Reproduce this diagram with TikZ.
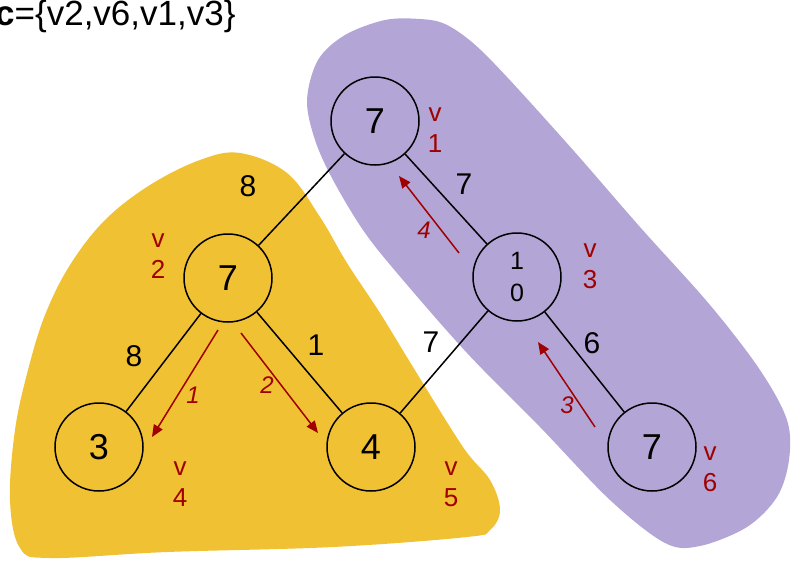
\documentclass[tikz,border=0pt]{standalone}
\usepackage{fontspec}
\setmainfont{Liberation Sans}
\usetikzlibrary{arrows.meta}
\definecolor{gold}{HTML}{F0C132}
\definecolor{lav}{HTML}{B3A6D6}
\definecolor{dred}{HTML}{A00000}
\begin{document}
\begin{tikzpicture}[x=1pt,y=-1pt,
  vert/.style={circle,draw,line width=1.5pt,minimum size=88pt,inner sep=0pt,font=\fontsize{36}{36}\selectfont},
  edge/.style={line width=1.5pt},
  wt/.style={font=\fontsize{30}{30}\selectfont,inner sep=0pt},
  vl/.style={text=dred,font=\fontsize{26}{31}\selectfont,align=center,inner sep=0pt},
  ord/.style={text=dred,font=\fontsize{24}{24}\selectfont\itshape,inner sep=0pt},
  tr/.style={dred,line width=1.5pt,-{Triangle[length=12pt,width=10pt]}}]
\useasboundingbox (0,0) rectangle (792,563);
% blobs
\fill[gold] plot[smooth cycle, tension=0.6] coordinates {(240,153) (287,173) (320,217) (347,263) (380,313) (413,367) (463,447) (490,480) (500,510) (490,530) (467,537) (333,547) (167,552) (50,558) (20,548) (10,500) (15,430) (28,370) (45,315) (70,265) (105,220) (150,185) (200,160)};
\fill[lav] plot[smooth cycle, tension=0.55] coordinates {(307,100) (318,60) (345,35) (385,20) (420,19) (445,24) (473,43) (507,77) (573,150) (640,227) (710,305) (760,370) (787,420) (789,460) (777,497) (747,527) (700,546) (665,543) (610,500) (540,427) (467,353) (397,273) (363,230) (333,180) (315,140)};
% title
\node[anchor=base west,font=\fontsize{35}{35}\selectfont,inner sep=0pt] (title) at (-5,25) {\textbf{c}=\{v2,v6,v1,v3\}};
% vertices
\node[vert] (v1) at (375,121) {7};
\node[vert] (v2) at (228,278) {7};
\node[vert,font=\fontsize{25}{32}\selectfont,align=center] (v3) at (517,277) {1\\0};
\node[vert] (v4) at (99,447) {3};
\node[vert] (v5) at (371,447) {4};
\node[vert] (v6) at (652,447) {7};
% edges
\draw[edge] (v1) -- (v2);
\draw[edge] (v1) -- (v3);
\draw[edge] (v2) -- (v4);
\draw[edge] (v2) -- (v5);
\draw[edge] (v3) -- (v5);
\draw[edge] (v3) -- (v6);
% weights
\node[wt] (w12) at (248,186) {8};
\node[wt] (w13) at (464,184) {7};
\node[wt] (w24) at (134,356) {8};
\node[wt] (w25) at (316,345) {1};
\node[wt] (w35) at (431,342) {7};
\node[wt] (w36) at (592,343) {6};
% vertex names
\node[vl] (n1) at (435,130) {v\\1};
\node[vl] (n2) at (158,256) {v\\2};
\node[vl] (n3) at (590,266) {v\\3};
\node[vl] (n4) at (180,484) {v\\4};
\node[vl] (n5) at (451,484) {v\\5};
\node[vl] (n6) at (710,469) {v\\6};
% traversal arrows
\coordinate (a1s) at (218,330); \coordinate (a1e) at (152,437);
\coordinate (a2s) at (241,333); \coordinate (a2e) at (318,433);
\coordinate (a3s) at (595,427); \coordinate (a3e) at (538,342);
\coordinate (a4s) at (459,253); \coordinate (a4e) at (399,176);
\draw[tr] (a1s) -- (a1e);
\draw[tr] (a2s) -- (a2e);
\draw[tr] (a3s) -- (a3e);
\draw[tr] (a4s) -- (a4e);
\node[ord] (o1) at (193,395) {1};
\node[ord] (o2) at (267,385) {2};
\node[ord] (o3) at (567,405) {3};
\node[ord] (o4) at (424,230) {4};
\end{tikzpicture}
\end{document}
